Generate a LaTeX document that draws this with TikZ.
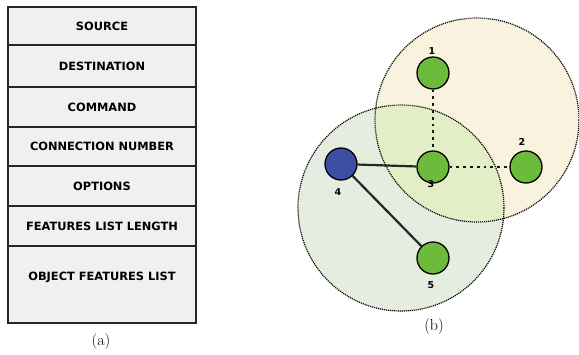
\documentclass[tikz,border=0pt]{standalone}
\usepackage{fontspec}
\setsansfont{DejaVu Sans}
\begin{document}
\begin{tikzpicture}[x=1pt,y=-1pt,
  field/.style={draw=black!85,line width=1.4pt,fill=black!6},
  fieldtext/.style={font=\sffamily\bfseries\fontsize{11.4}{13}\selectfont},
  zone/.style={draw=black,line width=1.2pt,dash pattern=on 1.1pt off 0.9pt},
  gnode/.style={circle,draw=black,line width=1.3pt,minimum size=32pt,inner sep=0pt},
  num/.style={font=\sffamily\bfseries\fontsize{9.5}{11}\selectfont},
  solidlink/.style={line width=2.2pt,black!85},
  dotlink/.style={line width=2.8pt,black!90,dash pattern=on 2.8pt off 4pt},
  captext/.style={font=\fontsize{16}{18}\selectfont}]
\useasboundingbox (0,0) rectangle (579,354);
\fill[white] (0,0) rectangle (579,354);
% table
\def\tl{8}\def\tr{196}
\foreach \a/\b/\t/\n in {7/45/SOURCE/f1,45/87/DESTINATION/f2,87/127/COMMAND/f3,127/166/CONNECTION NUMBER/f4,166/206/OPTIONS/f5,206/246/FEATURES LIST LENGTH/f6}{
  \draw[field] (\tl,\a) rectangle (\tr,\b);
  \node[fieldtext] (\n) at (102,{(\a+\b)/2}) {\t};
}
\draw[field] (\tl,246) rectangle (\tr,323);
\node[fieldtext] (f7) at (102,277) {OBJECT FEATURES LIST};
\node[captext] (capa) at (101,342) {(a)};
% zones
\definecolor{zoneY}{HTML}{F8F2DE}
\definecolor{zoneG}{HTML}{E5ECE0}
\definecolor{zoneO}{HTML}{E3EDC6}
\coordinate (cy) at (477,120);
\coordinate (cg) at (401,208);
\fill[zoneY] (cy) circle (102);
\fill[zoneG] (cg) circle (103);
\begin{scope}
\clip (cy) circle (102);
\fill[zoneO] (cg) circle (103);
\end{scope}
\draw[zone] (cy) circle (102);
\draw[zone] (cg) circle (103);
% nodes
\definecolor{gfill}{HTML}{6CBB3C}
\definecolor{bfill}{HTML}{3B4FA3}
\node[gnode,fill=gfill] (n1) at (433,73) {};
\node[gnode,fill=gfill] (n2) at (526,167) {};
\node[gnode,fill=gfill] (n3) at (433,167) {};
\node[gnode,fill=bfill] (n4) at (341,164) {};
\node[gnode,fill=gfill] (n5) at (433,258) {};
\node[num] (l1) at (432,51) {1};
\node[num] (l2) at (522,142) {2};
\node[num] (l3) at (431,184) {3};
\node[num] (l4) at (338,192) {4};
\node[num] (l5) at (431,285) {5};
\draw[dotlink] (n1) -- (n3);
\draw[dotlink] (n3) -- (n2);
\draw[solidlink] (n4) -- (n3);
\draw[solidlink] (n4) -- (n5);
\node[captext] (capb) at (434,327) {(b)};
\end{tikzpicture}
\end{document}
